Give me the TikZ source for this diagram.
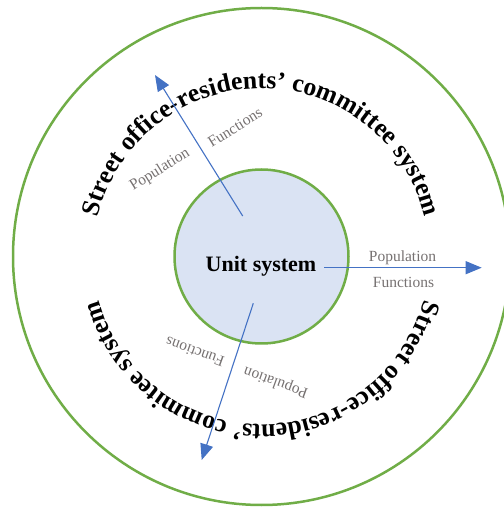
\documentclass[tikz,border=0pt]{standalone}
\usepackage{fontspec}
\setmainfont{Liberation Serif}
\usetikzlibrary{arrows.meta,decorations.text}
\definecolor{ringgreen}{RGB}{112,173,71}
\definecolor{unitfill}{RGB}{218,227,243}
\definecolor{arrowblue}{RGB}{68,114,196}
\definecolor{labelgray}{RGB}{118,113,113}
\newcommand\myarcfont{\bfseries\fontsize{25.7}{26}\selectfont}
\begin{document}
\begin{tikzpicture}[x=1pt,y=1pt,
  ring/.style={draw=ringgreen,line width=2.5pt,circle,inner sep=0pt},
  flow/.style={draw=arrowblue,line width=1.1pt,-{Triangle[length=16pt,width=13pt]}},
  lbl/.style={text=labelgray,font=\fontsize{15.5}{16}\selectfont,inner sep=0pt},
  unit/.style={font=\bfseries\fontsize{22}{24}\selectfont,inner sep=0pt}]
\useasboundingbox (0,0) rectangle (504,507);
\clip (0,0) rectangle (504,507);
\coordinate (C) at (261.5,250.5);
\node[ring,minimum size=497pt] (outer) at (C) {};
\node[ring,fill=unitfill,minimum size=174pt] (inner) at (C) {};
\node[unit,anchor=base] (unitlbl) at (261,235.3) {Unit system};
% arc texts
\path[decorate,decoration={text along path,text align=center,
  text format delimiters={|}{|},
  text={|\myarcfont|Street office-residents’ committee system}}]
  (93.5,250.5) arc[start angle=180,end angle=0,radius=168];
\path[decorate,decoration={text along path,text align=center,
  text format delimiters={|}{|},
  text={|\myarcfont|Street office-residents’ commitee system}}]
  (429.5,250.5) arc[start angle=0,end angle=-180,radius=168];
% arrows
\coordinate (a1s) at (242.7,291);
\coordinate (a1e) at (155,432);
\coordinate (a2s) at (324.3,239.3);
\coordinate (a2e) at (481.7,239.3);
\coordinate (a3s) at (253.3,203.7);
\coordinate (a3e) at (201.7,47);
\draw[flow] (a1s) -- (a1e);
\draw[flow] (a2s) -- (a2e);
\draw[flow] (a3s) -- (a3e);
% labels
\node[lbl,rotate=32] (p1) at (160,337) {Population};
\node[lbl,rotate=32] (f1) at (235,379.5) {Functions};
\node[lbl,anchor=base] (p2) at (402.5,245) {Population};
\node[lbl,anchor=base] (f2) at (403.5,219) {Functions};
\node[lbl,rotate=160] (f3) at (195,155) {Functions};
\node[lbl,rotate=160] (p3) at (276,125) {Population};
\end{tikzpicture}
\end{document}
